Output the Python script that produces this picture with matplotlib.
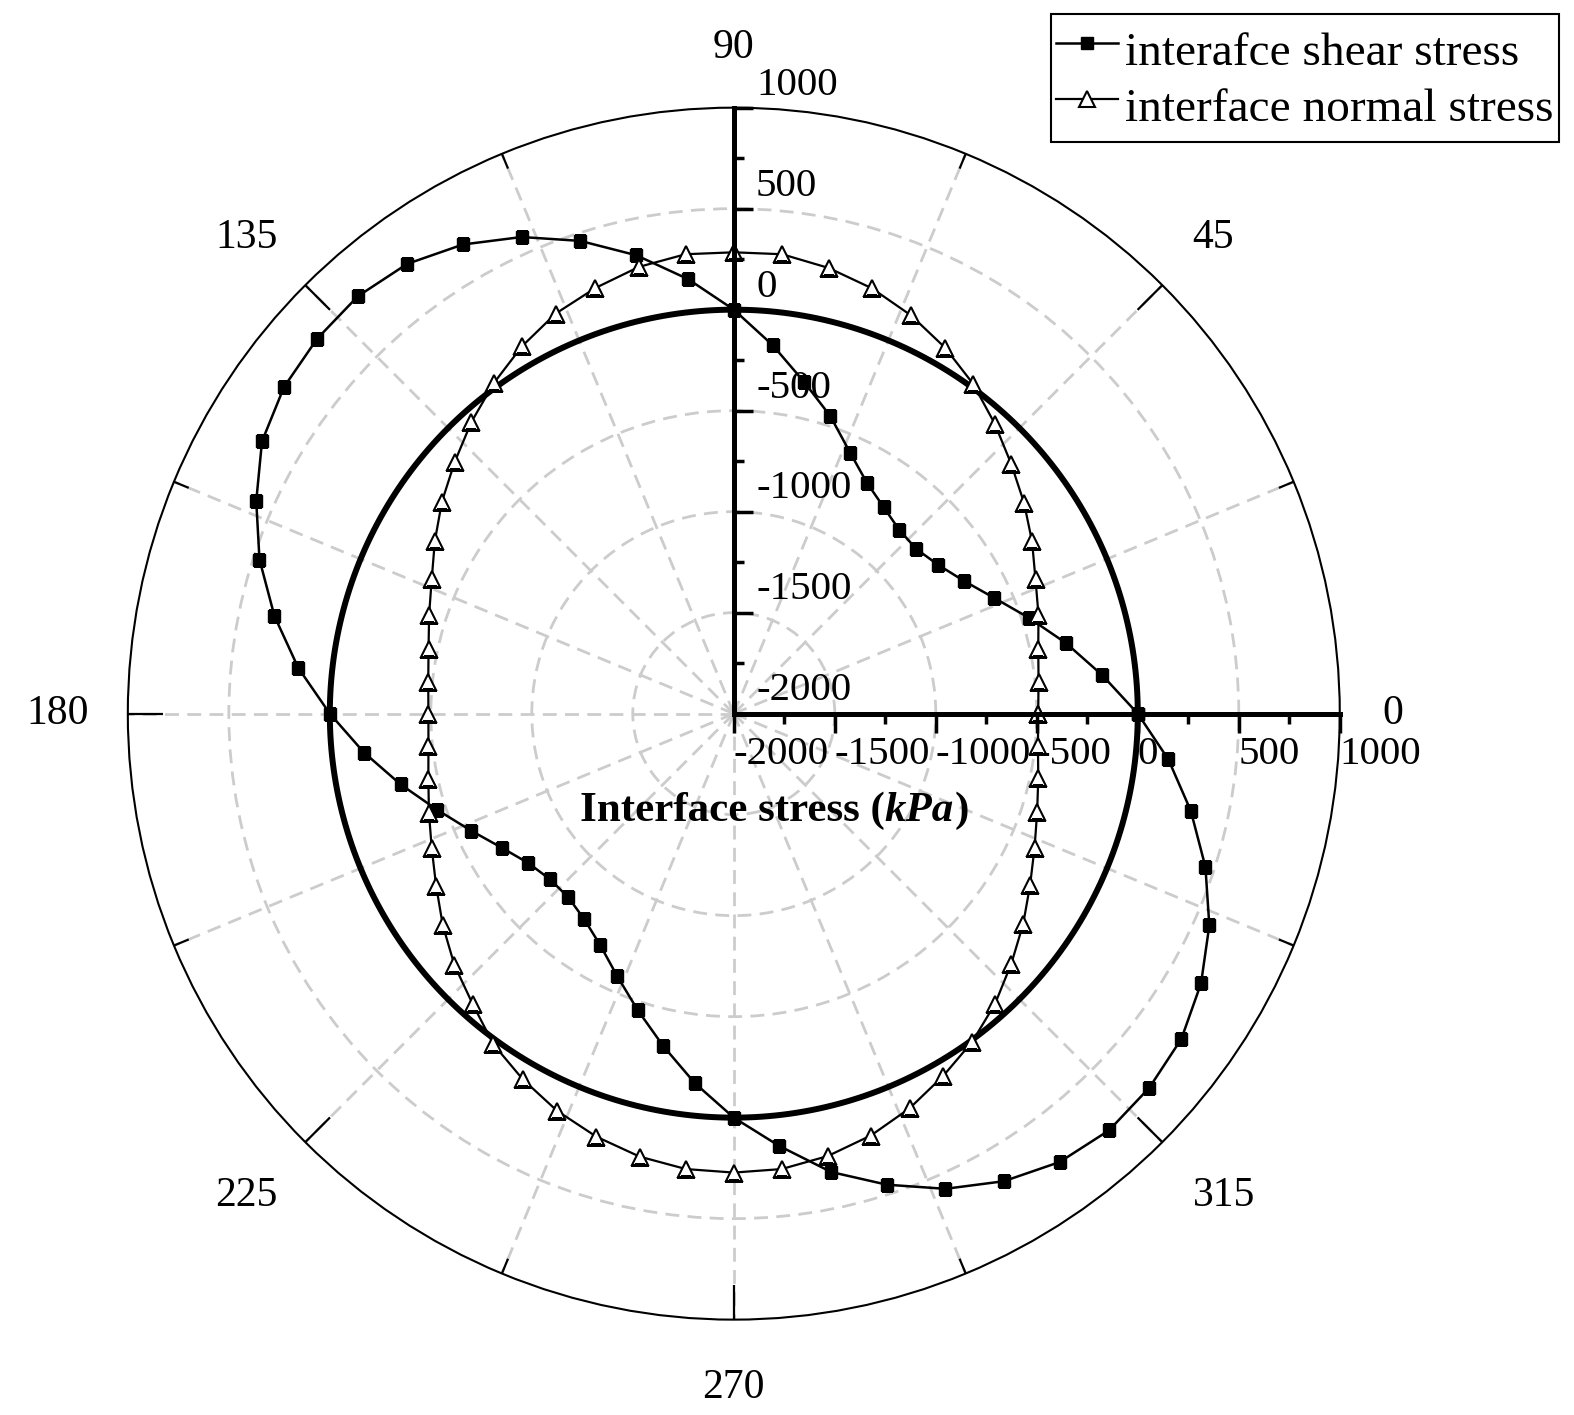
import numpy as np
import matplotlib.pyplot as plt
from matplotlib.transforms import ScaledTranslation

plt.rcParams['font.family'] = 'Liberation Serif'
plt.rcParams['axes.unicode_minus'] = False

# polar angle of each sample (deg), values in kPa
angle_deg = np.arange(0, 360, 6)
shear_kpa = [0, -167, -319, -464, -590, -685, -748, -783, -776, -737,
             -681, -585, -452, -322, -165, 0, 163, 320, 461, 583,
             682, 752, 781, 775, 752, 697, 588, 469, 325, 168,
             0, -159, -314, -457, -576, -673, -742, -775, -776, -741,
             -677, -579, -458, -318, -160, 0, 152, 320, 452, 575,
             673, 744, 776, 768, 739, 671, 577, 455, 313, 163]
normal_kpa = [-493, -483, -459, -414, -365, -295, -224, -152, -69, 17,
              92, 158, 214, 256, 287, 284, 287, 261, 216, 168,
              99, 22, -58, -140, -214, -291, -363, -414, -455, -479,
              -488, -480, -454, -413, -363, -298, -219, -139, -67, 24,
              90, 152, 202, 242, 267, 272, 267, 239, 196, 139,
              72, 8, -67, -151, -229, -306, -370, -421, -459, -486]

r_ticks = [-2000, -1500, -1000, -500, 0, 500, 1000]
r_minor = [-1750, -1250, -750, -250, 250, 750]
r_grid = [-1500, -1000, -500, 0, 500]
theta_ticks = np.arange(0, 360, 22.5)
theta_labels = [0, 45, 90, 135, 180, 225, 270, 315]


def closed(vals):
    vals = np.asarray(vals, dtype=float)
    return np.append(vals, vals[0])


fig = plt.figure(figsize=(15.74, 14.15), dpi=100)
rect = [0.0812, 0.0674, 0.7700, 0.8565]

ax = fig.add_axes(rect, projection='polar')
ax.set_ylim(-2000, 1000)
ax.set_yticks(r_grid)
ax.set_yticklabels([])
ax.set_xticks(np.deg2rad(theta_ticks))
ax.set_xticklabels([])
ax.grid(True, color='#cccccc', linestyle=(0, (5, 3)), linewidth=2)
ax.tick_params(axis='both', length=0)
ax.spines['polar'].set_linewidth(1.5)

# inward ticks on the outer circle, long at 45 deg steps
for a in theta_ticks:
    tick_len = 173 if a % 45 == 0 else 79
    ax.plot(np.deg2rad([a, a]), [1000, 1000 - tick_len], color='black', lw=1.6,
            solid_capstyle='butt', zorder=5)

# angle labels just outside the circle
for a in theta_labels:
    c, s = np.cos(np.deg2rad(a)), np.sin(np.deg2rad(a))
    ha = 'left' if c > 0.3 else ('right' if c < -0.3 else 'center')
    va = 'bottom' if s > 0.3 else ('top' if s < -0.3 else 'center')
    dx = 31 * c if c >= 0 else 28 * c
    dy = 29 * s if s >= 0 else 35 * s
    ax.annotate(str(a), xy=(np.deg2rad(a), 1000), xytext=(dx, dy),
                textcoords='offset points', ha=ha, va=va, fontsize=30,
                annotation_clip=False)

# zero-stress reference circle
th_fine = np.linspace(0, 2 * np.pi, 361)
ax.plot(th_fine, np.zeros_like(th_fine), color='black', lw=4.3, zorder=3)

th = np.deg2rad(closed(angle_deg))
ax.plot(th, closed(shear_kpa), '-s', color='black', lw=1.8, ms=9,
        label='interafce shear stress', zorder=4)
ax.plot(th, closed(normal_kpa), '-^', color='black', mfc='white', mec='black',
        mew=1.5, lw=1.6, ms=11, label='interface normal stress', zorder=4)

# radial axes drawn as two straight scales from the centre
ax2 = fig.add_axes(rect, facecolor='none')
ax2.set_xlim(-5000, 1000)
ax2.set_ylim(-5000, 1000)
ax2.spines['top'].set_visible(False)
ax2.spines['left'].set_visible(False)
for s in ('bottom', 'right'):
    ax2.spines[s].set_position(('data', -2000))
    ax2.spines[s].set_bounds(-2000, 1000)
    ax2.spines[s].set_linewidth(3.6)
ax2.yaxis.tick_right()
ax2.set_xticks(r_ticks)
ax2.set_yticks(r_ticks)
ax2.set_xticks(r_minor, minor=True)
ax2.set_yticks(r_minor, minor=True)
ax2.tick_params(which='major', direction='out', length=14, width=2.5, labelsize=29.5, pad=2)
ax2.tick_params(which='minor', direction='out', length=7, width=2.5)
for lab in ax2.get_xticklabels():
    lab.set_ha('left')
lift = ScaledTranslation(0, 3 / 72, fig.dpi_scale_trans)
for lab in ax2.get_yticklabels():
    lab.set_va('bottom')
    lab.set_transform(lab.get_transform() + lift)

t1 = fig.text(580 / 1574, (1415 - 821) / 1415, 'Interface stress (', fontsize=31,
              fontweight='bold', ha='left', va='baseline')
t2 = ax2.annotate('kPa', xy=(1, 0), xycoords=t1, va='bottom', ha='left',
                  fontsize=31, fontweight='bold', fontstyle='italic')
ax2.annotate(')', xy=(1, 0), xycoords=t2, va='bottom', ha='left',
             fontsize=31, fontweight='bold')

handles, labels = ax.get_legend_handles_labels()
leg = fig.legend(handles, labels, loc='upper right',
                 bbox_to_anchor=(1559 / 1574, (1415 - 14) / 1415),
                 fontsize=34, frameon=True, fancybox=False, framealpha=1,
                 edgecolor='black', borderaxespad=0, handlelength=1.3,
                 handleheight=1.6, handletextpad=0.15, borderpad=0.12,
                 labelspacing=-0.1)
leg.get_frame().set_linewidth(1.5)

fig.savefig('out.png', dpi=100, facecolor='white')
